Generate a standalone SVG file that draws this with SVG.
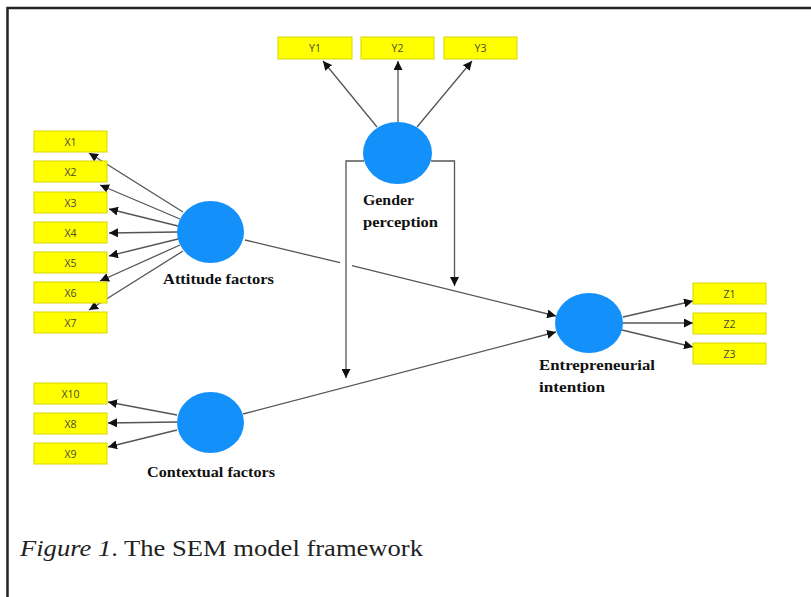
<svg xmlns="http://www.w3.org/2000/svg" width="811" height="597" viewBox="0 0 811 597">
<defs>
<marker id="ah" viewBox="0 0 10 10" refX="10" refY="5" markerWidth="9" markerHeight="9" markerUnits="userSpaceOnUse" orient="auto">
<path d="M0,0 L10,5 L0,10 z" fill="#111"/>
</marker>
<style>
.box{fill:#ffff00;stroke:#d6d600;stroke-width:1}
.bt{font-family:"Open Sans","DejaVu Sans",sans-serif;font-size:10.5px;fill:#4a4a30;text-anchor:middle}
.lv{fill:#1490fa}
.lt{font-family:"Liberation Serif","DejaVu Serif",serif;font-weight:bold;font-size:15px;fill:#111;}
.c{fill:none;stroke:#555;stroke-width:1.3}
.ca{fill:none;stroke:#555;stroke-width:1.3;marker-end:url(#ah)}
</style>
</defs>
<rect width="811" height="597" fill="#fff"/>
<path d="M7.5,597 V8 H811" fill="none" stroke="#222" stroke-width="2.5"/>

<g id="connectors">
<line class="ca" x1="183" y1="212" x2="89" y2="153"/>
<line class="ca" x1="180" y1="219" x2="100" y2="185"/>
<line class="ca" x1="178" y1="226" x2="109" y2="209"/>
<line class="ca" x1="177" y1="232" x2="109" y2="233"/>
<line class="ca" x1="178" y1="239" x2="109" y2="256"/>
<line class="ca" x1="180" y1="245" x2="100" y2="281"/>
<line class="ca" x1="183" y1="251" x2="89" y2="310"/>
<line class="ca" x1="377" y1="127" x2="323" y2="61"/>
<line class="ca" x1="398" y1="122" x2="398" y2="61"/>
<line class="ca" x1="417" y1="127" x2="472" y2="61"/>
<line class="ca" x1="177" y1="415" x2="108" y2="402"/>
<line class="ca" x1="177" y1="422" x2="108" y2="423"/>
<line class="ca" x1="177" y1="430" x2="108" y2="447"/>
<line class="ca" x1="623" y1="317" x2="693" y2="301"/>
<line class="ca" x1="623" y1="323" x2="693" y2="323"/>
<line class="ca" x1="622" y1="330" x2="693" y2="347"/>
<path class="c" d="M245,240 L340,262.7"/>
<path class="ca" d="M352,265.6 L556,316"/>
<path class="ca" d="M243,414 L556,332"/>
<path class="ca" d="M364,161 H346 V378"/>
<path class="ca" d="M431,161 H454.5 V286"/>
</g>

<g id="gender">
<ellipse class="lv" cx="397.5" cy="153" rx="34.5" ry="31"/>
<text class="lt" x="363" y="205" textLength="51" lengthAdjust="spacingAndGlyphs">Gender</text>
<text class="lt" x="363" y="227" textLength="75" lengthAdjust="spacingAndGlyphs">perception</text>
</g>
<g id="attitude">
<ellipse class="lv" cx="210.5" cy="232" rx="33.5" ry="31"/>
<text class="lt" x="163" y="284" textLength="111" lengthAdjust="spacingAndGlyphs">Attitude factors</text>
</g>
<g id="contextual">
<ellipse class="lv" cx="210.5" cy="422.5" rx="33.5" ry="30.5"/>
<text class="lt" x="147" y="477" textLength="128" lengthAdjust="spacingAndGlyphs">Contextual factors</text>
</g>
<g id="entrepreneurial">
<ellipse class="lv" cx="589" cy="323" rx="34" ry="30"/>
<text class="lt" x="539" y="370" textLength="116" lengthAdjust="spacingAndGlyphs">Entrepreneurial</text>
<text class="lt" x="539" y="392" textLength="66" lengthAdjust="spacingAndGlyphs">intention</text>
</g>

<g id="Y1"><rect class="box" x="278" y="37" width="74" height="22"/><text class="bt" x="315" y="52">Y1</text></g>
<g id="Y2"><rect class="box" x="361" y="37" width="73" height="22"/><text class="bt" x="397.5" y="52">Y2</text></g>
<g id="Y3"><rect class="box" x="444" y="37" width="73" height="22"/><text class="bt" x="480.5" y="52">Y3</text></g>

<g id="X1"><rect class="box" x="34" y="131" width="73" height="21"/><text class="bt" x="70.5" y="145.5">X1</text></g>
<g id="X2"><rect class="box" x="34" y="161" width="73" height="21"/><text class="bt" x="70.5" y="175.5">X2</text></g>
<g id="X3"><rect class="box" x="34" y="192" width="73" height="21"/><text class="bt" x="70.5" y="206.5">X3</text></g>
<g id="X4"><rect class="box" x="34" y="222" width="73" height="21"/><text class="bt" x="70.5" y="236.5">X4</text></g>
<g id="X5"><rect class="box" x="34" y="252" width="73" height="21"/><text class="bt" x="70.5" y="266.5">X5</text></g>
<g id="X6"><rect class="box" x="34" y="282" width="73" height="21"/><text class="bt" x="70.5" y="296.5">X6</text></g>
<g id="X7"><rect class="box" x="34" y="312" width="73" height="21"/><text class="bt" x="70.5" y="326.5">X7</text></g>

<g id="X10"><rect class="box" x="34" y="383" width="73" height="21"/><text class="bt" x="70.5" y="397.5">X10</text></g>
<g id="X8"><rect class="box" x="34" y="413" width="73" height="21"/><text class="bt" x="70.5" y="427.5">X8</text></g>
<g id="X9"><rect class="box" x="34" y="443" width="73" height="21"/><text class="bt" x="70.5" y="457.5">X9</text></g>

<g id="Z1"><rect class="box" x="693" y="283" width="73" height="21"/><text class="bt" x="729.5" y="297.5">Z1</text></g>
<g id="Z2"><rect class="box" x="693" y="313" width="73" height="21"/><text class="bt" x="729.5" y="327.5">Z2</text></g>
<g id="Z3"><rect class="box" x="693" y="343" width="73" height="21"/><text class="bt" x="729.5" y="357.5">Z3</text></g>

<text x="20" y="556" font-family="Liberation Serif, serif" font-size="24" fill="#222" textLength="403" lengthAdjust="spacingAndGlyphs"><tspan font-style="italic">Figure 1</tspan>. The SEM model framework</text>
</svg>
